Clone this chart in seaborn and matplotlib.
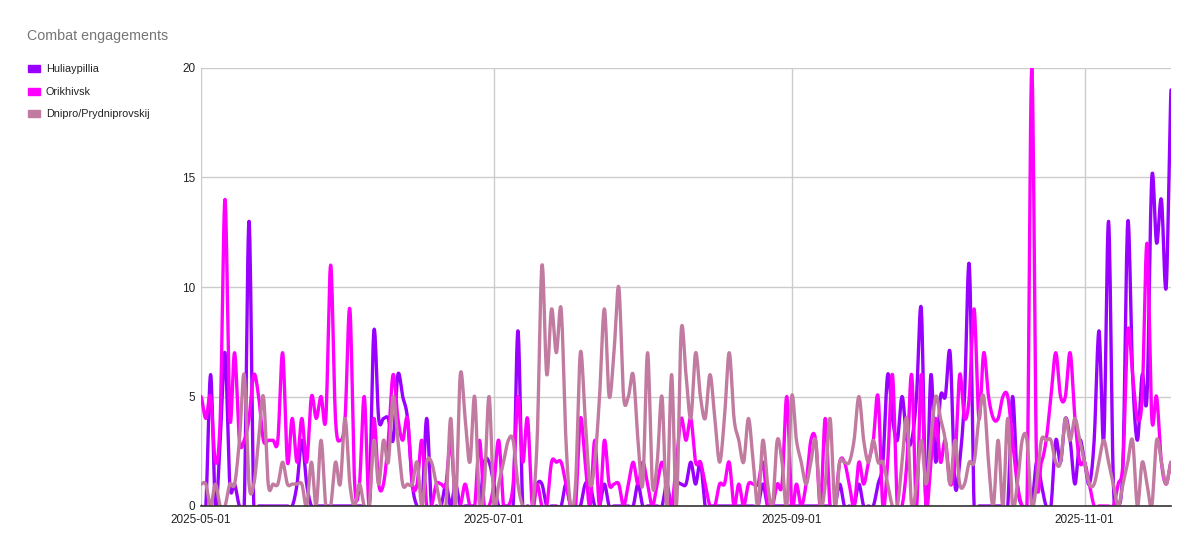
##### Libraries #####
import numpy as np
import pandas as pd
import seaborn as sns
from matplotlib import pyplot as plt
from matplotlib.patches import Patch

##### Data (daily counts, 2025-05-01 .. 2025-11-19) #####
start_date = '2025-05-01'

huliaypillia = [
    0, 0, 6, 0, 3, 7, 1, 1, 0, 0,
    13, 0, 0, 0, 0, 0, 0, 0, 0, 0,
    1, 3, 1, 0, 0, 0, 0, 0, 0, 0,
    0, 0, 0, 0, 0, 0, 8, 4, 4, 4,
    3, 6, 5, 4, 1, 0, 0, 4, 0, 0,
    0, 1, 0, 1, 0, 0, 0, 0, 0, 2,
    2, 1, 0, 0, 0, 0, 8, 0, 0, 0,
    1, 1, 0, 0, 0, 0, 1, 0, 0, 0,
    1, 1, 0, 0, 1, 0, 0, 0, 0, 0,
    0, 1, 0, 0, 0, 0, 0, 1, 0, 1,
    1, 1, 2, 1, 2, 0, 0, 0, 0, 0,
    0, 0, 0, 0, 0, 0, 0, 1, 0, 0,
    0, 0, 0, 0, 0, 0, 0, 0, 0, 0,
    0, 0, 0, 1, 0, 0, 0, 1, 0, 0,
    0, 1, 2, 6, 4, 3, 5, 3, 3, 5,
    9, 0, 6, 2, 5, 5, 7, 1, 2, 5,
    11, 0, 0, 0, 0, 0, 0, 0, 0, 5,
    1, 0, 0, 0, 2, 1, 0, 0, 3, 2,
    4, 3, 1, 3, 2, 1, 3, 8, 3, 13,
    1, 0, 2, 13, 6, 3, 6, 5, 15, 12,
    14, 10, 19]

orikhivsk = [
    5, 4, 5, 2, 4, 14, 4, 7, 3, 3,
    4, 6, 5, 3, 3, 3, 3, 7, 2, 4,
    2, 4, 2, 5, 4, 5, 4, 11, 4, 3,
    4, 9, 1, 1, 5, 0, 4, 1, 1, 3,
    6, 4, 3, 4, 1, 1, 3, 0, 0, 1,
    1, 1, 3, 0, 0, 1, 0, 0, 3, 0,
    0, 1, 3, 0, 0, 1, 5, 2, 4, 0,
    1, 0, 0, 2, 2, 2, 1, 0, 0, 4,
    2, 0, 3, 0, 3, 1, 1, 1, 0, 1,
    2, 1, 2, 1, 0, 1, 2, 1, 0, 2,
    4, 3, 4, 2, 2, 1, 0, 0, 1, 1,
    2, 0, 1, 0, 1, 1, 1, 2, 0, 0,
    1, 1, 5, 0, 1, 0, 1, 3, 3, 0,
    4, 0, 0, 2, 2, 1, 0, 2, 1, 2,
    3, 5, 0, 2, 6, 0, 0, 2, 6, 0,
    6, 0, 2, 4, 2, 3, 1, 2, 6, 4,
    5, 9, 4, 7, 5, 4, 4, 5, 5, 3,
    1, 0, 0, 20, 2, 2, 3, 5, 7, 5,
    5, 7, 4, 2, 2, 1, 0, 0, 0, 0,
    0, 1, 2, 8, 6, 4, 5, 12, 4, 5,
    2, 1, 2]

dnipro = [
    1, 1, 0, 1, 0, 0, 1, 1, 3, 6,
    1, 1, 3, 5, 1, 1, 1, 2, 1, 1,
    1, 1, 0, 2, 0, 3, 0, 0, 2, 1,
    4, 1, 0, 1, 0, 0, 3, 1, 3, 2,
    5, 3, 1, 1, 1, 2, 0, 2, 2, 1,
    0, 0, 4, 0, 6, 4, 2, 5, 0, 1,
    5, 0, 1, 2, 3, 3, 1, 0, 0, 0,
    3, 11, 6, 9, 7, 9, 3, 0, 1, 7,
    4, 1, 2, 5, 9, 5, 7, 10, 5, 5,
    6, 3, 1, 7, 1, 2, 5, 0, 6, 0,
    8, 6, 4, 7, 5, 4, 6, 4, 2, 4,
    7, 4, 3, 2, 4, 2, 0, 3, 1, 0,
    3, 2, 0, 5, 3, 2, 1, 2, 3, 0,
    1, 4, 0, 2, 2, 2, 3, 5, 3, 2,
    3, 2, 2, 1, 0, 0, 2, 4, 0, 1,
    3, 1, 3, 5, 4, 3, 1, 3, 1, 1,
    2, 2, 4, 5, 2, 0, 3, 0, 4, 0,
    1, 3, 3, 0, 1, 3, 3, 3, 2, 2,
    4, 3, 4, 3, 2, 1, 1, 2, 3, 2,
    1, 0, 1, 2, 3, 0, 2, 1, 0, 3,
    2, 1, 2]

series_names = ['Huliaypillia', 'Orikhivsk', 'Dnipro/Prydniprovskij']
series_colors = ['#9900ff', '#ff00ff', '#c27ba0']
x_ticks = ['2025-05-01', '2025-07-01', '2025-09-01', '2025-11-01']
y_ticks = [0, 5, 10, 15, 20]


# smooth curve through the daily points (like the sheet's "function" curve)
def smooth(values, steps=12):
    y = np.asarray(values, dtype=float)
    p = np.concatenate([[y[0]], y, [y[-1]]])
    t = np.linspace(0, 1, steps, endpoint=False)
    xs, ys = [], []
    for i in range(len(y) - 1):
        p0, p1, p2, p3 = p[i], p[i + 1], p[i + 2], p[i + 3]
        seg = 0.5 * (2 * p1 + (-p0 + p2) * t + (2 * p0 - 5 * p1 + 4 * p2 - p3) * t ** 2
                     + (-p0 + 3 * p1 - 3 * p2 + p3) * t ** 3)
        xs.append(i + t)
        ys.append(seg)
    xs.append([len(y) - 1])
    ys.append([y[-1]])
    return np.concatenate(xs), np.concatenate(ys)


frames = []
for name, values in zip(series_names, [huliaypillia, orikhivsk, dnipro]):
    days, vals = smooth(values)
    frames.append(pd.DataFrame({
        'date': pd.Timestamp(start_date) + pd.to_timedelta(days, unit='D'),
        'value': vals,
        'series': name}))
df = pd.concat(frames, ignore_index=True)

##### Plot #####
sns.set_theme(style='white')
plt.rcParams['font.family'] = ['Liberation Sans', 'DejaVu Sans']

fig = plt.figure(figsize=(12, 5.53), dpi=100)
ax = fig.add_axes([201 / 1200, 1 - 506 / 553, 970 / 1200, 438 / 553])

sns.lineplot(data=df, x='date', y='value', hue='series', hue_order=series_names,
             palette=series_colors, linewidth=2.4, estimator=None, sort=False,
             legend=False, ax=ax)

last_date = pd.Timestamp(start_date) + pd.Timedelta(days=len(huliaypillia) - 1)
ax.set_xlim(pd.Timestamp(start_date), last_date)
ax.set_ylim(0, 20)
ax.set_yticks(y_ticks)
ax.set_yticklabels([str(v) for v in y_ticks], fontsize=8.5, color='#222222')
ax.set_xticks(pd.to_datetime(x_ticks))
ax.set_xticklabels(x_ticks, fontsize=8.5, color='#222222')
ax.tick_params(axis='both', length=0)
ax.tick_params(axis='y', pad=4)
ax.tick_params(axis='x', pad=6)
ax.set_xlabel('')
ax.set_ylabel('')

ax.grid(True, color='#cccccc', linewidth=1)
ax.set_axisbelow(True)
for side in ['top', 'right', 'left']:
    ax.spines[side].set_visible(False)
ax.spines['bottom'].set_color('#333333')
ax.spines['bottom'].set_linewidth(1.2)

fig.text(27 / 1200, 1 - 36 / 553, 'Combat engagements', fontsize=10.3, color='#757575',
         va='center', ha='left')

handles = [Patch(facecolor=c, edgecolor=c, label=n) for n, c in zip(series_names, series_colors)]
fig.legend(handles=handles, loc='upper left', bbox_to_anchor=(28 / 1200, 1 - 64.5 / 553),
           frameon=False, fontsize=7.8, handlelength=1.1, handleheight=0.6,
           handletextpad=0.55, labelspacing=1.15, labelcolor='#222222',
           borderpad=0, borderaxespad=0)

fig.savefig('out.png', dpi=100)
